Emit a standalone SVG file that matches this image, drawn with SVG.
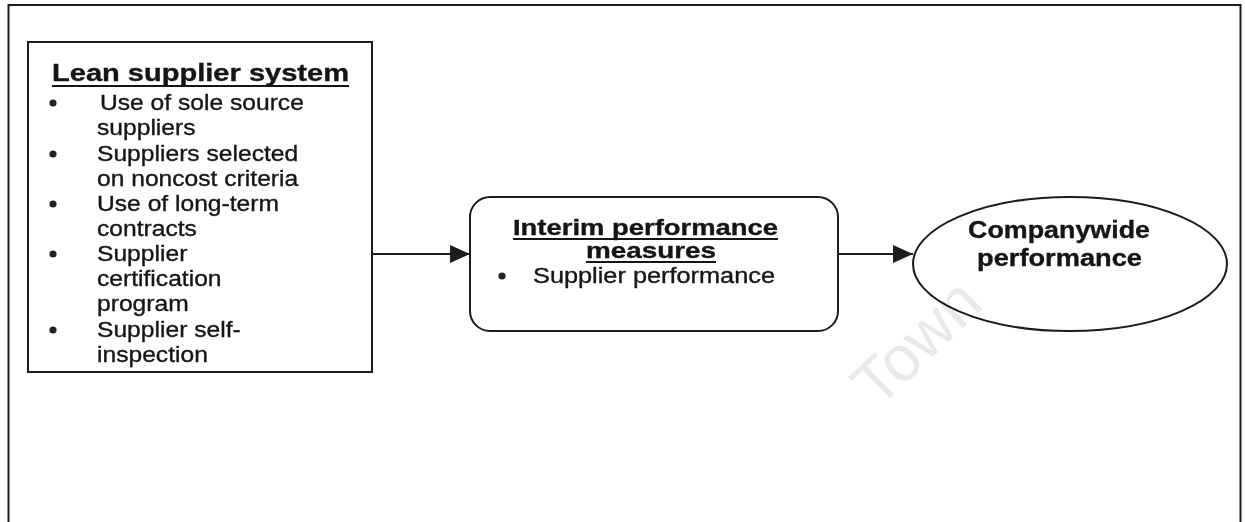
<svg xmlns="http://www.w3.org/2000/svg" width="1245" height="522" viewBox="0 0 1245 522">
  <defs>
    <style>
      .frame { fill: none; stroke: #1c1c1c; stroke-width: 2; }
      .box { fill: #ffffff; stroke: #1c1c1c; stroke-width: 2; }
      .t { font-family: "Liberation Sans", Arial, sans-serif; fill: #151515; stroke: #151515; stroke-width: 0.35px; }
      .body { font-size: 22.5px; }
      .head { font-size: 24px; font-weight: bold; }
      .mid { font-size: 22px; font-weight: bold; }
      .midb { font-size: 22px; }
      .oval { font-size: 24px; font-weight: bold; }
      .ul { stroke: #151515; stroke-width: 2; }
      .dot { fill: #222222; }
      .conn { stroke: #1c1c1c; stroke-width: 2; fill: none; }
      .wm { font-family: "Liberation Sans", Arial, sans-serif; font-size: 64px; fill: #e9e9e9; mix-blend-mode: multiply; }
    </style>
    <marker id="arrow" viewBox="0 0 20 18" refX="20" refY="9" markerWidth="20" markerHeight="18" markerUnits="userSpaceOnUse" orient="auto">
      <path d="M0,0 L20,9 L0,18 Z" fill="#1c1c1c"/>
    </marker>
  </defs>

  <rect width="1245" height="522" fill="#ffffff"/>

  <!-- outer frame, bottom edge runs past the page -->
  <rect class="frame" x="8.5" y="5" width="1232" height="540"/>

  <!-- connectors -->
  <g id="connectors">
    <line class="conn" x1="373" y1="254" x2="470" y2="254" marker-end="url(#arrow)"/>
    <line class="conn" x1="838" y1="254" x2="913" y2="254" marker-end="url(#arrow)"/>
  </g>

  <!-- lean supplier system -->
  <g id="lean-supplier-system">
    <rect class="box" x="28" y="42" width="344" height="330"/>
    <text class="t head" x="52" y="81" textLength="297" lengthAdjust="spacingAndGlyphs">Lean supplier system</text>
    <line class="ul" x1="52" y1="86" x2="349" y2="86"/>
    <circle class="dot" cx="53" cy="103" r="3.6"/>
    <circle class="dot" cx="53" cy="154" r="3.6"/>
    <circle class="dot" cx="53" cy="204" r="3.6"/>
    <circle class="dot" cx="53" cy="254" r="3.6"/>
    <circle class="dot" cx="53" cy="330" r="3.6"/>
    <g transform="translate(97,0) scale(1.095,1)">
      <text class="t body" x="2.7" y="110">Use of sole source</text>
      <text class="t body" x="0" y="135">suppliers</text>
      <text class="t body" x="0" y="161">Suppliers selected</text>
      <text class="t body" x="0" y="186">on noncost criteria</text>
      <text class="t body" x="0" y="211">Use of long-term</text>
      <text class="t body" x="0" y="236">contracts</text>
      <text class="t body" x="0" y="261">Supplier</text>
      <text class="t body" x="0" y="286">certification</text>
      <text class="t body" x="0" y="311">program</text>
      <text class="t body" x="0" y="337">Supplier self-</text>
      <text class="t body" x="0" y="362">inspection</text>
    </g>
  </g>

  <!-- interim performance measures -->
  <g id="interim-measures">
    <rect class="box" x="470" y="197" width="368" height="134" rx="20" ry="20"/>
    <text class="t mid" x="513" y="235" textLength="265" lengthAdjust="spacingAndGlyphs">Interim performance</text>
    <line class="ul" x1="513" y1="239" x2="778" y2="239"/>
    <text class="t mid" x="586" y="258" textLength="130" lengthAdjust="spacingAndGlyphs">measures</text>
    <line class="ul" x1="586" y1="262" x2="716" y2="262"/>
    <circle class="dot" cx="502" cy="276" r="3.6"/>
    <text class="t midb" x="533" y="283" textLength="242" lengthAdjust="spacingAndGlyphs">Supplier performance</text>
  </g>

  <!-- companywide performance -->
  <g id="companywide-performance">
    <ellipse class="box" cx="1070" cy="264" rx="157" ry="67"/>
    <text class="t oval" x="968" y="238" textLength="182" lengthAdjust="spacingAndGlyphs">Companywide</text>
    <text class="t oval" x="977" y="266" textLength="165" lengthAdjust="spacingAndGlyphs">performance</text>
  </g>

  <!-- faint watermark over the page -->
  <text class="wm" x="0" y="0" transform="translate(878,410) rotate(-44)">Town</text>
</svg>
